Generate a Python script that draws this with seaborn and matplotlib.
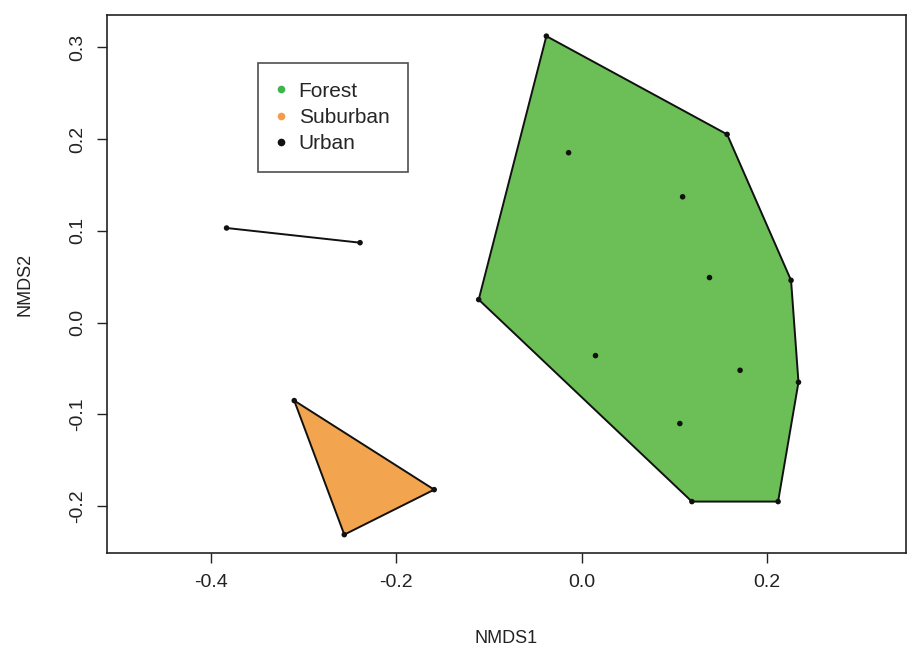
import numpy as np
import pandas as pd
import matplotlib
matplotlib.use("Agg")
import matplotlib.pyplot as plt
import seaborn as sns

# NMDS site scores
forest_x = [-0.038, 0.157, 0.226, 0.234, 0.212, 0.119, -0.111, -0.014, 0.109, 0.138, 0.015, 0.171, 0.106]
forest_y = [0.312, 0.205, 0.046, -0.065, -0.195, -0.195, 0.025, 0.185, 0.137, 0.049, -0.036, -0.052, -0.110]
suburban_x = [-0.310, -0.159, -0.256]
suburban_y = [-0.085, -0.182, -0.231]
urban_x = [-0.383, -0.239]
urban_y = [0.103, 0.087]

groups = ["Forest", "Suburban", "Urban"]
fill_colors = {"Forest": "#6CBE56", "Suburban": "#F2A54E", "Urban": "#222222"}
legend_colors = {"Forest": "#3DB54A", "Suburban": "#F79A4A", "Urban": "#111111"}

df = pd.concat([
    pd.DataFrame({"NMDS1": forest_x, "NMDS2": forest_y, "group": "Forest"}),
    pd.DataFrame({"NMDS1": suburban_x, "NMDS2": suburban_y, "group": "Suburban"}),
    pd.DataFrame({"NMDS1": urban_x, "NMDS2": urban_y, "group": "Urban"}),
])


def hull(points):
    # monotone chain convex hull
    pts = sorted(set(points))
    if len(pts) < 3:
        return pts

    def cross(o, a, b):
        return (a[0] - o[0]) * (b[1] - o[1]) - (a[1] - o[1]) * (b[0] - o[0])

    lower, upper = [], []
    for p in pts:
        while len(lower) >= 2 and cross(lower[-2], lower[-1], p) <= 0:
            lower.pop()
        lower.append(p)
    for p in reversed(pts):
        while len(upper) >= 2 and cross(upper[-2], upper[-1], p) <= 0:
            upper.pop()
        upper.append(p)
    return lower[:-1] + upper[:-1]


sns.set_style("white")
plt.rcParams["font.family"] = ["Liberation Sans", "DejaVu Sans"]

fig = plt.figure(figsize=(9.07, 6.52), dpi=100)
ax = fig.add_axes([107 / 907, 1 - 553 / 652, 799 / 907, 538 / 652])

for g in groups:
    sub = df[df["group"] == g]
    h = hull(list(zip(sub["NMDS1"], sub["NMDS2"])))
    hx = [p[0] for p in h]
    hy = [p[1] for p in h]
    if len(h) >= 3:
        ax.fill(hx, hy, facecolor=fill_colors[g], edgecolor="#111111", linewidth=1.4, zorder=1)
    else:
        ax.plot(hx, hy, color="#111111", linewidth=1.4, zorder=1)

sns.scatterplot(data=df, x="NMDS1", y="NMDS2", color="#111111", s=16,
                edgecolor="none", ax=ax, zorder=3, legend=False)

ax.set_xlim(-0.512, 0.350)
ax.set_ylim(-0.251, 0.335)
ax.set_xticks([-0.4, -0.2, 0.0, 0.2])
ax.set_xticklabels(["-0.4", "-0.2", "0.0", "0.2"])
ax.set_yticks([-0.2, -0.1, 0.0, 0.1, 0.2, 0.3])
ax.set_yticklabels(["-0.2", "-0.1", "0.0", "0.1", "0.2", "0.3"], rotation=90, va="center")
ax.tick_params(axis="both", direction="out", length=7, width=1, color="#222222",
               labelsize=14, labelcolor="#222222", bottom=True, left=True, pad=8)
for s in ax.spines.values():
    s.set_color("#222222")
    s.set_linewidth(1.2)

ax.set_xlabel("NMDS1", fontsize=13, color="#222222", labelpad=28)
ax.set_ylabel("NMDS2", fontsize=13, color="#222222", labelpad=26)

handles = [plt.Line2D([], [], marker="o", linestyle="none", markersize=5.5,
                      markerfacecolor=legend_colors[g], markeredgecolor="none", label=g)
           for g in groups]
leg = ax.legend(handles=handles, loc="upper left", bbox_to_anchor=(0.189, 0.911),
                frameon=True, fancybox=False, fontsize=15, handletextpad=0.65,
                borderpad=0.9, labelspacing=0.35, handlelength=0.4, borderaxespad=0)
leg.get_frame().set_edgecolor("#222222")
leg.get_frame().set_linewidth(1.2)

fig.savefig("out.png", dpi=100)
